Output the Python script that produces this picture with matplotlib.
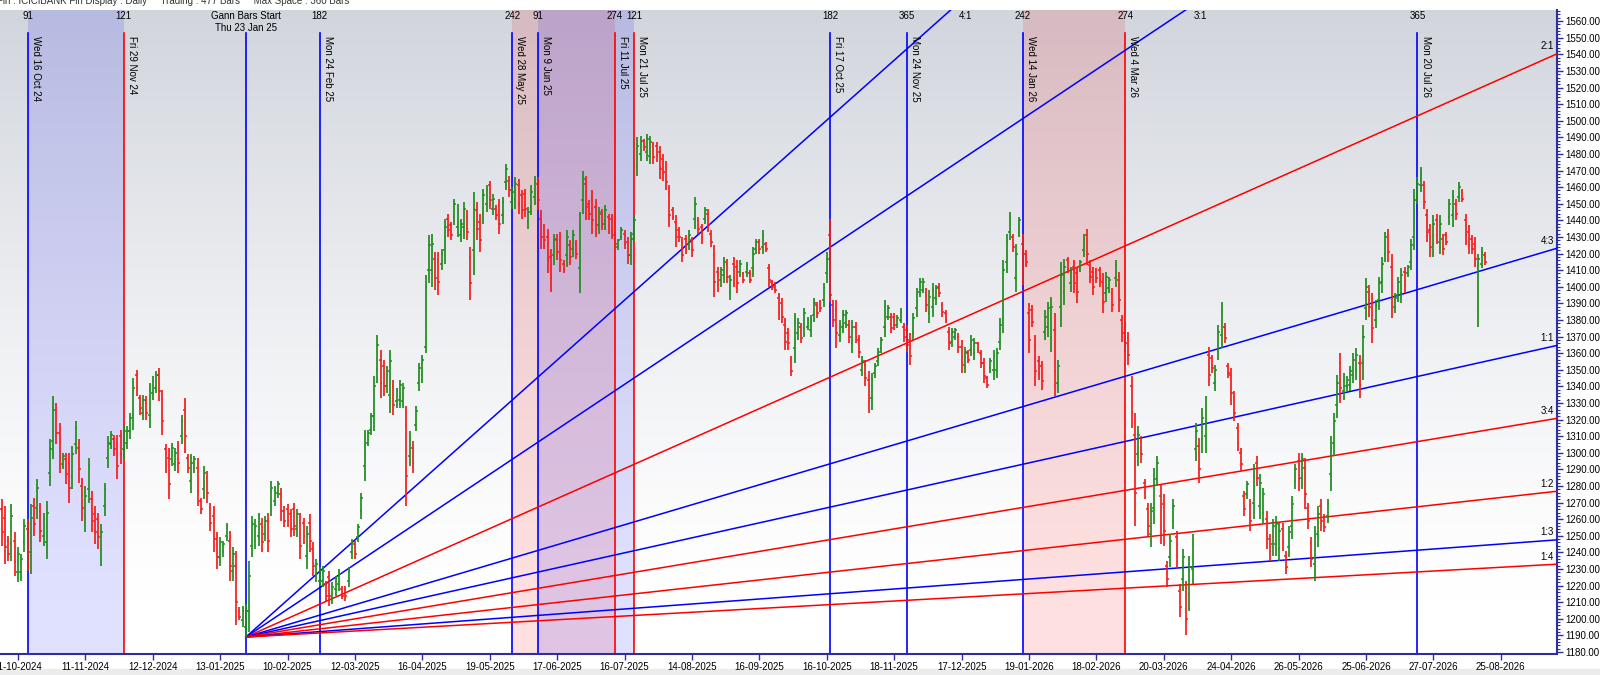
import numpy as np
import matplotlib
matplotlib.use('Agg')
import matplotlib.pyplot as plt
from matplotlib.ticker import MultipleLocator, FixedLocator

plt.rcParams['font.family'] = ['Liberation Sans', 'DejaVu Sans']

# daily bars, index 0 = 11-10-2024, first visible bar is -5
first_bar = -5
highs = [
    1272,1268,1250,1269,1252,1243,1239,1260,1260,1269, 1273,1284,1270,1264,1271,1308,1334,1330,1318,1300,
    1300,1300,1304,1319,1308,1285,1280,1297,1277,1268, 1264,1257,1282,1310,1313,1311,1311,1314,1317,1316,
    1324,1345,1350,1335,1335,1334,1342,1346,1349,1351, 1338,1305,1303,1306,1303,1307,1323,1333,1299,1299,
    1298,1297,1273,1292,1289,1270,1268,1252,1249,1247, 1258,1253,1243,1241,1207,1208,1209,1235,1262,1260,
    1264,1261,1262,1264,1283,1280,1283,1279,1268,1269, 1266,1270,1266,1264,1261,1256,1263,1246,1236,1231,
    1232,1223,1229,1222,1226,1230,1220,1220,1231,1248, 1247,1257,1276,1314,1314,1324,1346,1371,1362,1356,1352,
    1362,1344,1339,1344,1342,1328,1313,1307,1328,1354, 1359,1407,1431,1432,1421,1421,1423,1441,1444,1439,
    1453,1450,1441,1451,1446,1424,1457,1451,1444,1459, 1461,1464,1456,1449,1453,1454,1474,1467,1460,1466,
    1465,1458,1459,1448,1461,1467,1466,1446,1438,1435, 1423,1432,1432,1433,1416,1434,1428,1434,1428,1445,
    1470,1467,1452,1458,1453,1448,1447,1449,1444,1444, 1433,1429,1436,1434,1430,1433,1443,1490,1491,1489,
    1492,1491,1487,1487,1485,1480,1476,1461,1448,1443, 1436,1430,1431,1434,1430,1454,1442,1438,1448,1447,
    1434,1425,1412,1412,1418,1417,1407,1418,1416,1416, 1409,1415,1410,1424,1429,1429,1434,1427,1414,1404,1403,1396,
    1393,1381,1375,1358,1384,1381,1378,1387,1382,1383, 1393,1391,1392,1402,1421,1441,1392,1392,1380,1386,
    1386,1380,1380,1379,1371,1358,1356,1349,1348,1354, 1363,1370,1392,1389,1384,1384,1383,1387,1378,1377,
    1372,1384,1399,1405,1405,1399,1398,1402,1401,1402, 1391,1386,1376,1375,1375,1372,1368,1364,1362,1371,
    1369,1367,1362,1357,1346,1357,1362,1363,1381,1416, 1432,1445,1432,1426,1442,1432,1422,1390,1389,1371,
    1358,1355,1386,1391,1394,1384,1356,1415,1417,1418, 1412,1416,1412,1416,1432,1435,1416,1412,1411,1412,
    1408,1409,1406,1399,1416,1409,1383,1379,1373,1346, 1324,1316,1310,1284,1270,1270,1291,1298,1281,1275,1235,
    1251,1272,1253,1221,1242,1223,1238,1251,1318,1309, 1327,1334,1364,1359,1353,1377,1391,1378,1354,1351,
    1337,1318,1303,1277,1283,1272,1293,1298,1287,1279, 1265,1251,1260,1262,1258,1258,1241,1256,1274,1293,
    1300,1300,1297,1270,1249,1256,1268,1272,1263,1272, 1310,1324,1347,1360,1348,1346,1352,1360,1363,1359,
    1377,1405,1401,1396,1392,1406,1418,1433,1435,1420, 1396,1406,1411,1412,1413,1429,1459,1466,1472,1464,
    1447,1438,1443,1444,1443,1432,1433,1453,1458,1453, 1463,1459,1444,1437,1431,1430,1420,1424,1421,
]
lows = [
    1244,1233,1235,1235,1226,1222,1223,1240,1229,1227, 1250,1260,1246,1244,1236,1280,1296,1305,1288,1290,
    1281,1270,1278,1299,1282,1259,1252,1270,1252,1245, 1242,1232,1262,1291,1302,1298,1284,1293,1296,1302,
    1308,1314,1334,1323,1320,1320,1315,1332,1336,1331, 1311,1288,1272,1292,1289,1288,1305,1300,1288,1276,
    1288,1268,1263,1272,1270,1253,1240,1230,1232,1237, 1247,1223,1223,1196,1199,1195,1189,1192,1237,1242,
    1244,1240,1247,1240,1262,1268,1273,1259,1255,1255, 1249,1250,1249,1236,1245,1230,1240,1226,1222,1220,
    1219,1211,1208,1209,1214,1217,1212,1211,1219,1236, 1236,1246,1260,1283,1304,1311,1313,1342,1333,1334,1336,
    1324,1323,1327,1327,1327,1268,1292,1288,1313,1337, 1342,1360,1402,1400,1398,1395,1410,1414,1430,1428,
    1437,1430,1427,1429,1428,1392,1407,1428,1421,1438, 1445,1447,1443,1440,1432,1438,1458,1454,1447,1447,
    1444,1441,1442,1435,1443,1449,1446,1423,1423,1408, 1397,1413,1416,1409,1408,1412,1413,1418,1417,1396,
    1444,1440,1440,1432,1430,1432,1434,1434,1432,1429, 1423,1422,1428,1423,1414,1413,1427,1467,1476,1482,
    1476,1474,1474,1475,1465,1464,1458,1436,1440,1424, 1427,1415,1420,1422,1418,1435,1432,1426,1438,1433,
    1424,1394,1397,1400,1402,1402,1392,1400,1396,1406, 1402,1406,1402,1406,1420,1420,1420,1421,1400,1398,1396,1380,
    1378,1362,1362,1346,1354,1368,1366,1370,1374,1370, 1379,1381,1385,1388,1402,1391,1376,1363,1367,1372,
    1375,1366,1360,1366,1357,1346,1340,1324,1326,1345, 1352,1360,1370,1380,1372,1374,1375,1378,1367,1361,
    1353,1368,1382,1394,1396,1385,1378,1382,1389,1394, 1382,1378,1362,1364,1368,1360,1348,1348,1354,1358,
    1356,1360,1351,1342,1339,1348,1344,1345,1362,1372, 1408,1428,1421,1397,1430,1401,1412,1360,1376,1340,
    1344,1338,1368,1370,1361,1334,1336,1376,1389,1408, 1397,1396,1390,1409,1418,1413,1402,1395,1402,1400,
    1384,1391,1396,1385,1400,1385,1367,1360,1353,1315, 1256,1292,1294,1272,1250,1243,1257,1280,1245,1244,1219,
    1231,1254,1231,1201,1217,1190,1205,1221,1295,1282, 1300,1300,1340,1348,1337,1356,1363,1366,1345,1329,
    1319,1301,1289,1262,1272,1253,1260,1280,1260,1258, 1242,1235,1238,1238,1235,1241,1227,1237,1248,1278,
    1277,1278,1266,1254,1231,1223,1243,1253,1252,1258, 1277,1298,1321,1330,1332,1337,1337,1342,1344,1333,
    1344,1380,1382,1366,1375,1386,1396,1415,1415,1381, 1384,1391,1390,1396,1406,1410,1422,1450,1457,1447,
    1427,1418,1418,1426,1420,1419,1425,1437,1436,1440, 1451,1451,1425,1420,1420,1412,1376,1411,1413,
]
opens = [
    1266,1261,1247,1245,1247,1228,1228,1246,1254,1240, 1268,1267,1265,1250,1246,1288,1307,1325,1312,1293,
    1296,1294,1286,1305,1303,1280,1260,1278,1272,1263, 1260,1240,1268,1297,1305,1308,1306,1310,1302,1306,
    1313,1323,1347,1333,1324,1331,1323,1336,1339,1347, 1333,1302,1297,1296,1293,1303,1310,1326,1297,1283,
    1291,1291,1271,1278,1285,1267,1262,1248,1237,1240, 1250,1247,1229,1232,1205,1199,1195,1205,1244,1247,
    1250,1257,1251,1259,1268,1271,1276,1275,1265,1266, 1263,1266,1254,1258,1258,1238,1258,1242,1226,1223,
    1223,1221,1225,1213,1218,1221,1218,1218,1223,1240, 1245,1249,1265,1292,1306,1314,1322,1350,1356,1352,1340,
    1335,1340,1331,1332,1331,1316,1298,1303,1317,1342, 1347,1364,1410,1410,1417,1416,1414,1422,1441,1437,
    1442,1436,1431,1436,1442,1418,1422,1446,1439,1444, 1450,1461,1447,1447,1449,1443,1463,1464,1451,1453,
    1461,1455,1456,1439,1448,1454,1462,1441,1435,1430, 1418,1419,1429,1428,1414,1419,1425,1423,1426,1411,
    1452,1462,1450,1453,1448,1437,1444,1439,1442,1441, 1431,1424,1430,1432,1427,1419,1432,1472,1480,1488,
    1481,1479,1485,1485,1481,1477,1472,1456,1446,1439, 1434,1427,1429,1426,1428,1441,1440,1436,1441,1444,
    1432,1419,1409,1404,1407,1414,1397,1414,1412,1409, 1408,1409,1408,1411,1423,1427,1424,1426,1411,1403,1402,1393,
    1390,1377,1372,1356,1363,1372,1376,1375,1376,1374, 1383,1389,1391,1392,1408,1431,1389,1386,1371,1376,
    1378,1377,1366,1376,1368,1350,1353,1344,1333,1348, 1355,1363,1376,1382,1382,1382,1377,1380,1376,1374,
    1368,1372,1387,1397,1398,1396,1384,1388,1393,1400, 1389,1384,1373,1367,1370,1370,1364,1353,1360,1362,
    1360,1366,1360,1354,1345,1351,1350,1350,1367,1380, 1415,1433,1430,1405,1433,1426,1420,1384,1386,1365,
    1355,1352,1373,1376,1370,1374,1342,1388,1397,1416, 1402,1412,1408,1411,1422,1431,1413,1409,1409,1410,
    1403,1396,1399,1396,1405,1404,1380,1375,1369,1340, 1311,1299,1307,1282,1266,1251,1267,1285,1274,1269,1232,
    1237,1259,1249,1217,1224,1216,1215,1230,1302,1304, 1308,1310,1359,1357,1342,1362,1371,1376,1352,1347,
    1333,1315,1300,1274,1275,1268,1270,1294,1268,1264, 1260,1248,1245,1245,1242,1254,1238,1243,1256,1283,
    1295,1285,1291,1267,1245,1233,1251,1268,1261,1262, 1287,1306,1329,1354,1337,1340,1341,1347,1350,1354,
    1354,1387,1397,1390,1380,1392,1403,1420,1431,1412, 1388,1395,1396,1409,1408,1415,1430,1454,1461,1461,
    1443,1434,1425,1440,1427,1429,1431,1442,1443,1450, 1454,1457,1440,1433,1429,1426,1411,1414,1419,
]
closes = [
    1252,1243,1239,1262,1234,1239,1236,1256,1238,1261, 1257,1279,1253,1260,1264,1302,1326,1312,1297,1298,
    1287,1279,1299,1315,1290,1267,1274,1292,1259,1252, 1249,1252,1278,1306,1311,1302,1292,1299,1313,1313,
    1321,1339,1339,1327,1332,1324,1337,1343,1347,1337, 1319,1293,1281,1303,1300,1294,1319,1310,1291,1294,
    1296,1277,1266,1288,1276,1258,1248,1237,1246,1245, 1256,1232,1239,1210,1201,1205,1205,1226,1257,1256,
    1260,1246,1259,1247,1279,1277,1281,1265,1259,1259, 1254,1256,1263,1244,1250,1251,1247,1232,1233,1229,
    1229,1214,1214,1219,1224,1227,1214,1214,1229,1246, 1239,1255,1273,1308,1312,1322,1340,1365,1342,1340,1349,
    1355,1329,1337,1341,1339,1286,1309,1294,1325,1351, 1356,1400,1425,1426,1405,1403,1420,1436,1434,1431,
    1450,1446,1438,1447,1433,1402,1447,1435,1428,1455, 1458,1452,1453,1443,1438,1451,1471,1458,1457,1462,
    1450,1446,1447,1445,1457,1463,1452,1430,1428,1416, 1405,1428,1421,1416,1410,1430,1418,1431,1420,1435,
    1465,1448,1444,1440,1437,1445,1438,1446,1436,1434, 1426,1428,1434,1426,1419,1429,1440,1485,1488,1484,
    1489,1487,1478,1479,1471,1469,1463,1443,1442,1430, 1430,1419,1423,1431,1422,1450,1435,1430,1446,1437,
    1427,1403,1401,1410,1415,1406,1404,1405,1402,1414, 1404,1413,1404,1420,1427,1423,1431,1423,1404,1400,1398,1385,
    1382,1367,1366,1349,1378,1378,1369,1384,1380,1380, 1390,1384,1387,1399,1417,1395,1380,1372,1377,1383,
    1384,1370,1376,1370,1361,1355,1345,1331,1344,1352, 1361,1368,1388,1387,1375,1377,1381,1385,1370,1365,
    1358,1381,1396,1403,1403,1389,1394,1398,1399,1396, 1385,1380,1366,1373,1374,1364,1354,1361,1356,1368,
    1366,1362,1354,1346,1341,1355,1358,1360,1377,1410, 1427,1441,1424,1420,1440,1410,1415,1368,1379,1349,
    1348,1343,1382,1387,1388,1349,1352,1407,1412,1411, 1409,1402,1397,1415,1429,1420,1406,1400,1405,1404,
    1391,1406,1404,1389,1413,1392,1372,1366,1359,1324, 1276,1311,1299,1276,1256,1265,1284,1294,1256,1253,1224,
    1247,1268,1238,1207,1237,1200,1231,1245,1313,1290, 1321,1327,1347,1351,1350,1373,1385,1369,1348,1336,
    1324,1306,1293,1266,1281,1259,1286,1285,1282,1275, 1249,1240,1256,1257,1253,1246,1231,1252,1269,1290,
    1284,1296,1275,1259,1236,1249,1263,1259,1255,1269, 1303,1319,1342,1339,1345,1344,1349,1356,1359,1341,
    1370,1400,1388,1375,1389,1402,1414,1430,1421,1393, 1393,1403,1407,1401,1412,1425,1452,1462,1468,1451,
    1433,1424,1438,1431,1438,1423,1427,1450,1454,1444, 1460,1453,1431,1425,1423,1417,1417,1421,1415,
]

date_ticks = ['11-10-2024', '11-11-2024', '12-12-2024', '13-01-2025', '10-02-2025', '12-03-2025',
              '16-04-2025', '19-05-2025', '17-06-2025', '16-07-2025', '14-08-2025', '16-09-2025',
              '16-10-2025', '18-11-2025', '17-12-2025', '19-01-2026', '18-02-2026', '20-03-2026',
              '24-04-2026', '26-05-2026', '25-06-2026', '27-07-2026', '25-08-2026']
tick_every = 21

# Gann time count lines
gann_start_bar = 71
gann_start_price = 1189
event_bars = [3, 33, 94, 154, 162, 186, 192, 253, 277, 313, 345, 436]
event_dates = ['Wed 16 Oct 24', 'Fri 29 Nov 24', 'Mon 24 Feb 25', 'Wed 28 May 25', 'Mon 9 Jun 25',
               'Fri 11 Jul 25', 'Mon 21 Jul 25', 'Fri 17 Oct 25', 'Mon 24 Nov 25', 'Wed 14 Jan 26',
               'Wed 4 Mar 26', 'Mon 20 Jul 26']
event_counts = ['91', '121', '182', '242', '91', '274', '121', '182', '365', '242', '274', '365']
event_colors = ['blue', 'red', 'blue', 'blue', 'blue', 'red', 'red', 'blue', 'blue', 'blue', 'red', 'blue']
spans = [(3, 33, 'blue'), (154, 186, 'red'), (162, 192, 'blue'), (313, 345, 'red')]

# Gann fan (price per bar for 1x1)
fan_unit = 0.43
fan_labels = ['4:1', '3:1', '2:1', '4:3', '1:1', '3:4', '1:2', '1:3', '1:4']
fan_ratios = [4, 3, 2, 4/3, 1, 3/4, 1/2, 1/3, 1/4]
fan_colors = ['blue', 'blue', 'red', 'blue', 'blue', 'red', 'red', 'blue', 'red']

xmin, xmax = -5.58, 479.5
ymin, ymax = 1178.8, 1566.7
axis_blue = '#2e2e9e'

fig = plt.figure(figsize=(16, 6.75), dpi=100)
fig.patch.set_facecolor('white')
ax = fig.add_axes([0, 21/675, 1557/1600, 644/675])
ax.set_xlim(xmin, xmax)
ax.set_ylim(ymin, ymax)

# background gradient
t = np.linspace(0, 1, 256)[:, None]
k = np.clip((t - 0.08) / 0.92, 0, 1) ** 1.3
top = np.array([0.82, 0.835, 0.865])
grad = 1 - k[..., None] * (1 - top)
ax.imshow(grad[::-1].reshape(256, 1, 3), extent=[0, 1, 0, 1], transform=ax.transAxes,
          aspect='auto', zorder=0, origin='upper')
ax.imshow(grad.reshape(256, 1, 3), extent=[0, 1, 0, 1], transform=ax.transAxes,
          aspect='auto', zorder=0, origin='lower')

for a, b, c in spans:
    ax.axvspan(a, b, color=c, alpha=0.12, lw=0, zorder=1)

line_top = 0.964
for bar, d, cnt, c in zip(event_bars, event_dates, event_counts, event_colors):
    ax.axvline(bar, ymin=0, ymax=line_top, color=c, lw=1.2, zorder=2)
    ax.text(bar + 1.0, 0.960, d, transform=ax.get_xaxis_transform(), rotation=270,
            ha='left', va='top', fontsize=7, color='black', zorder=6)
    ax.text(bar, 0.991, cnt, transform=ax.get_xaxis_transform(), ha='center', va='center',
            fontsize=7, color='black', zorder=6)
ax.axvline(gann_start_bar, ymin=0, ymax=line_top, color='blue', lw=1.2, zorder=2)
ax.text(gann_start_bar, 0.991, 'Gann Bars Start', transform=ax.get_xaxis_transform(),
        ha='center', va='center', fontsize=7, zorder=6)
ax.text(gann_start_bar, 0.972, 'Thu 23 Jan 25', transform=ax.get_xaxis_transform(),
        ha='center', va='center', fontsize=7, zorder=6)

# fan lines
for lab, r, c in zip(fan_labels, fan_ratios, fan_colors):
    slope = fan_unit * r
    y_end = gann_start_price + slope * (xmax - gann_start_bar)
    ax.plot([gann_start_bar, xmax], [gann_start_price, y_end], color=c, lw=1.1, zorder=3)
    if y_end > ymax:
        x_exit = gann_start_bar + (ymax - gann_start_price) / slope
        ax.text(x_exit + 2.5, 0.991, lab, transform=ax.get_xaxis_transform(),
                ha='left', va='center', fontsize=7, zorder=6)
    else:
        ax.text(xmax - 1.0, y_end + 1.5, lab, ha='right', va='bottom', fontsize=7, zorder=6)

# OHLC bars
x = np.arange(first_bar, first_bar + len(highs))
o = np.array(opens); h = np.array(highs); l = np.array(lows); c = np.array(closes)
cols = np.where(c >= o, '#1e8c1e', '#f41c1c')
ax.vlines(x, l, h, colors=cols, lw=1.25, zorder=5)
ax.hlines(o, x - 0.55, x, colors=cols, lw=1.1, zorder=5)
ax.hlines(c, x, x + 0.55, colors=cols, lw=1.1, zorder=5)

# axes styling
for s in ['left', 'top']:
    ax.spines[s].set_visible(False)
for s in ['right', 'bottom']:
    ax.spines[s].set_color(axis_blue)
    ax.spines[s].set_linewidth(1.5)

ax.set_xticks(np.arange(len(date_ticks)) * tick_every)
ax.set_xticklabels(date_ticks)
ax.tick_params(axis='x', colors=axis_blue, labelcolor='black', labelsize=7, length=4, width=1, pad=2)

ax.yaxis.tick_right()
yt = np.arange(1180, 1561, 10)
ax.set_yticks(yt)
ax.set_yticklabels([f'{v:.2f}' for v in yt])
ax.yaxis.set_minor_locator(MultipleLocator(2))
ax.tick_params(axis='y', which='major', colors=axis_blue, labelcolor='black', labelsize=7,
               length=4, width=1, pad=2)
ax.tick_params(axis='y', which='minor', colors=axis_blue, length=2, width=0.8)

fig.text(-0.002, 0.999, 'Fin : ICICIBANK Fin Display : Daily     Trading : 477 Bars     Max Space : 360 Bars',
         ha='left', va='center', fontsize=7, color='#333333')
fig.patches.append(plt.Rectangle((0, 0), 1, 6/675, transform=fig.transFigure,
                                 color='#ececec', zorder=-1))

fig.savefig('out.png', dpi=100)
